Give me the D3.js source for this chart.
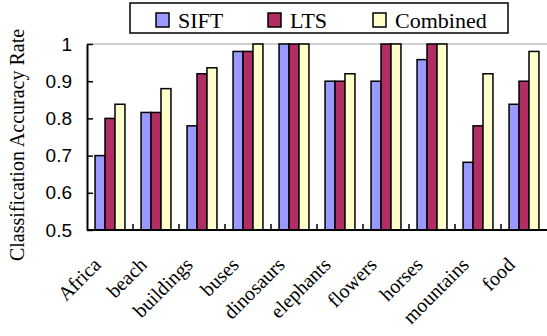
<!DOCTYPE html>
<html lang="en">
<head>
    <meta charset="UTF-8">
    <title>Classification Accuracy</title>
    <script src="https://d3js.org/d3.v7.min.js"></script>
    <style>
        body { margin: 0; background: #fff; }
        .serif { font-family: "Liberation Serif", "Times New Roman", serif; }
        .sans { font-family: "Liberation Sans", Arial, sans-serif; }
    </style>
</head>
<body>
<svg id="chart"></svg>
<script>
    const categories = ["Africa", "beach", "buildings", "buses", "dinosaurs",
        "elephants", "flowers", "horses", "mountains", "food"];
    const seriesNames = ["SIFT", "LTS", "Combined"];
    const siftValues = [0.70, 0.816, 0.78, 0.98, 1.0, 0.90, 0.90, 0.958, 0.682, 0.838];
    const ltsValues = [0.80, 0.816, 0.92, 0.98, 1.0, 0.90, 1.0, 1.0, 0.78, 0.90];
    const combinedValues = [0.838, 0.88, 0.936, 1.0, 1.0, 0.92, 1.0, 1.0, 0.92, 0.98];
    const yTicks = [0.5, 0.6, 0.7, 0.8, 0.9, 1];
    const colors = ["#9999ff", "#b22d64", "#ffffcc"];

    const width = 547, height = 336;
    const margin = {top: 44, right: 0, bottom: 106, left: 87};

    const svg = d3.select("#chart")
        .attr("width", width)
        .attr("height", height);

    const x = d3.scaleBand()
        .domain(categories)
        .range([margin.left, width - margin.right])
        .paddingInner(0.35)
        .paddingOuter(0.175);

    const xs = d3.scaleBand()
        .domain(seriesNames)
        .range([0, x.bandwidth()]);

    const y = d3.scaleLinear()
        .domain([0.5, 1])
        .range([height - margin.bottom, margin.top]);

    const table = categories.map((c, i) => ({
        cat: c,
        vals: [siftValues[i], ltsValues[i], combinedValues[i]]
    }));

    // gridline at top
    svg.append("line")
        .attr("x1", margin.left).attr("x2", width)
        .attr("y1", y(1)).attr("y2", y(1))
        .attr("stroke", "#a0a0a0").attr("stroke-width", 1.2);

    // bars
    const groups = svg.append("g").selectAll("g")
        .data(table)
        .enter().append("g")
        .attr("transform", d => `translate(${x(d.cat)},0)`);

    groups.selectAll("rect")
        .data(d => d.vals.map((v, j) => ({v: v, s: seriesNames[j], j: j})))
        .enter().append("rect")
        .attr("x", d => xs(d.s))
        .attr("width", xs.bandwidth())
        .attr("y", d => y(d.v))
        .attr("height", d => y(0.5) - y(d.v))
        .attr("fill", d => colors[d.j])
        .attr("stroke", "black")
        .attr("stroke-width", 1.5);

    // y axis
    const yAxis = svg.append("g")
        .attr("transform", `translate(${margin.left},0)`)
        .call(d3.axisLeft(y).tickValues(yTicks).tickSize(-6)
            .tickFormat(d => d === 1 ? "1" : d3.format(".1f")(d)).tickSizeOuter(0));
    yAxis.select(".domain").attr("stroke", "black").attr("stroke-width", 2);
    yAxis.selectAll(".tick line").attr("stroke", "black").attr("stroke-width", 1.5);
    yAxis.selectAll(".tick text")
        .attr("class", "sans")
        .attr("x", -15)
        .attr("font-size", "19px")
        .attr("fill", "black");

    // x axis
    const step = x.step();
    const xAxis = svg.append("g");
    xAxis.append("line")
        .attr("x1", margin.left).attr("x2", width)
        .attr("y1", y(0.5)).attr("y2", y(0.5))
        .attr("stroke", "black").attr("stroke-width", 2);
    xAxis.selectAll(".xtick")
        .data(categories.slice(1))
        .enter().append("line")
        .attr("x1", d => x(d) - step * x.paddingInner() / 2)
        .attr("x2", d => x(d) - step * x.paddingInner() / 2)
        .attr("y1", y(0.5)).attr("y2", y(0.5) - 6)
        .attr("stroke", "black").attr("stroke-width", 1.5);
    xAxis.selectAll(".xlabel")
        .data(categories)
        .enter().append("text")
        .attr("class", "serif")
        .attr("font-size", "20px")
        .attr("text-anchor", "end")
        .attr("transform", d => `translate(${x(d) + x.bandwidth() / 2 - 8},${y(0.5) + 36}) rotate(-45)`)
        .text(d => d);

    // y axis title
    svg.append("text")
        .attr("class", "serif")
        .attr("font-size", "20px")
        .attr("text-anchor", "middle")
        .attr("transform", `translate(24,${(y(0.5) + y(1)) / 2 + 8}) rotate(-90)`)
        .text("Classification Accuracy Rate");

    // legend
    const legend = svg.append("g");
    legend.append("rect")
        .attr("x", 130).attr("y", 3)
        .attr("width", 378).attr("height", 30)
        .attr("fill", "white").attr("stroke", "black").attr("stroke-width", 1.5);
    const legendX = [156, 268, 373];
    seriesNames.forEach((s, i) => {
        legend.append("rect")
            .attr("x", legendX[i]).attr("y", 13)
            .attr("width", 13).attr("height", 14)
            .attr("fill", colors[i]).attr("stroke", "black").attr("stroke-width", 1.5);
        legend.append("text")
            .attr("class", "serif")
            .attr("x", legendX[i] + 22).attr("y", 28)
            .attr("font-size", "22px")
            .text(s);
    });
</script>
</body>
</html>
